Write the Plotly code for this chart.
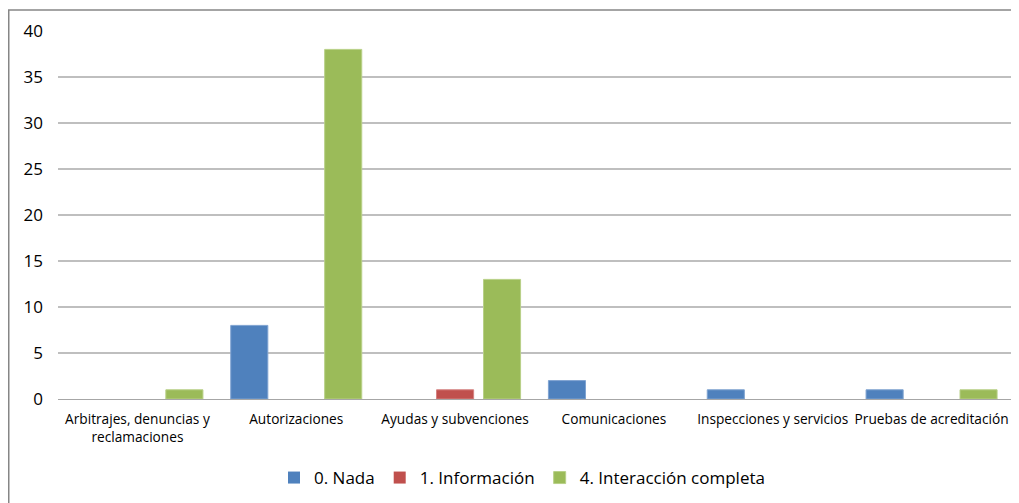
import plotly.graph_objects as go

categories = ["Arbitrajes, denuncias y<br>reclamaciones", "Autorizaciones", "Ayudas y subvenciones",
              "Comunicaciones", "Inspecciones y servicios", "Pruebas de acreditación"]
nada = [0, 8, 0, 2, 1, 1]
informacion = [0, 0, 1, 0, 0, 0]
interaccion = [1, 38, 13, 0, 0, 1]
series_names = ["0. Nada", "1. Información", "4. Interacción completa"]
colors = ["#4F81BD", "#C0504D", "#9BBB59"]
edge_colors = ["#7FA3D1", "#D58280", "#B8D088"]
y_ticks = [0, 5, 10, 15, 20, 25, 30, 35, 40]

W, H = 1011, 495
L, R, T, B = 50, 8, 23, 103
pw, ph = W - L - R, H - T - B

fig = go.Figure()
for name, vals, c, ec in zip(series_names, [nada, informacion, interaccion], colors, edge_colors):
    fig.add_trace(go.Bar(
        x=categories, y=vals, name=name,
        marker=dict(color=c, line=dict(color=ec, width=[1 if v > 0 else 0 for v in vals]))))

fig.update_layout(
    width=W, height=H,
    margin=dict(l=L, r=R, t=T, b=B),
    paper_bgcolor="white", plot_bgcolor="white",
    barmode="group", bargap=0.113, bargroupgap=0.21,
    font=dict(family="Open Sans, Liberation Sans, sans-serif", color="#000000"),
    showlegend=True,
    legend=dict(orientation="h", x=(266 - L) / pw, xanchor="left", y=-(470 - (H - B)) / ph, yanchor="middle",
                font=dict(size=17, color="#000000"), itemwidth=30, traceorder="normal"),
    xaxis=dict(showgrid=False, showline=True, linecolor="#A6A6A6", linewidth=1,
               tickfont=dict(size=13.7), ticks="", ticklabelstandoff=8),
    yaxis=dict(range=[0, 40], tickvals=y_ticks, showgrid=True, gridcolor="#BFBFBF", gridwidth=1.5,
               zeroline=False, showline=False, tickfont=dict(size=17), ticks="",
               ticklabelstandoff=14),
    shapes=[dict(type="rect", xref="paper", yref="paper",
                 x0=(0.75 - L) / pw, x1=(W + 5 - L) / pw,
                 y0=-(H + 5 - T - ph) / ph, y1=1 + (T - 2) / ph,
                 line=dict(color="#868686", width=1.5), fillcolor="rgba(0,0,0,0)", layer="below")],
)

fig.write_html("out.html")
